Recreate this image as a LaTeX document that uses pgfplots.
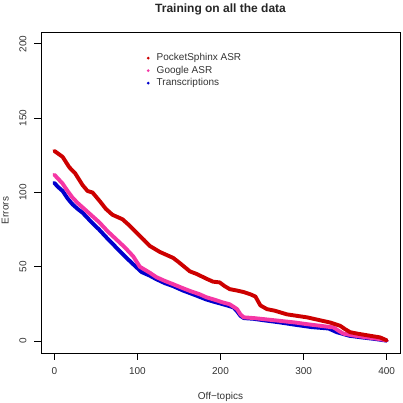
\documentclass[border=0pt]{standalone}
\usepackage{fontspec}
\setmainfont{Liberation Sans}
\usepackage{pgfplots}
\pgfplotsset{compat=1.18}
\definecolor{psred}{RGB}{205,0,0}
\definecolor{gpink}{RGB}{245,55,165}
\definecolor{trblue}{RGB}{0,0,205}

\begin{document}
\begin{tikzpicture}
\path[use as bounding box] (0,0) rectangle (403bp,403bp);
\begin{axis}[
  at={(41bp,50bp)}, anchor=south west,
  scale only axis, width=359bp, height=321bp,
  xmin=-16, xmax=416, ymin=-8, ymax=208,
  xtick={0,100,...,400}, ytick={0,50,...,200},
  tick pos=left, tick align=outside, major tick length=6.5bp,
  axis line style={line width=0.8bp},
  every tick/.style={black, line width=0.8bp},
  /pgf/number format/assume math mode=true,
  ticklabel style={font=\fontsize{10bp}{12bp}\selectfont, text=black!80},
  xticklabel style={yshift=-4bp},
  yticklabel style={xshift=-4.5bp, rotate=90, anchor=south},
  reverse legend,
  legend cell align=left,
  legend image code/.code={\fill[#1, draw=none] (0bp,0bp) circle (1.5bp);},
  legend style={draw=none, fill=none, font=\fontsize{10bp}{12bp}\selectfont,
    text=black!80, at={(0.2856,0.945)}, anchor=north west,
    column sep=5.5bp,
    nodes={inner sep=1.5bp, text height=7.5bp, text depth=2bp}},
]
% Transcriptions
\addplot[trblue, line width=3.9bp, line join=round, line cap=round] table {
x y
0 106.5
4 104
10 101
16 96
22 92
28 89
34 86.4
44 80.5
54 75
64 69
74.5 63
85 57
95 51.7
105 46.5
115 44
123 41.6
133 39
143 37
155 34
167 31.5
183 28
192 26.5
203 24.8
211 23.5
216 22.5
220 20
224 17
228 15.5
240 15
255 13.8
270 12.7
290 11
310 9.4
330 8.5
340 6
355 3.6
370 2.5
385 1.5
400 0.3
};
\addlegendentry{Transcriptions}
% Google ASR
\addplot[gpink, line width=3.9bp, line join=round, line cap=round] table {
x y
0 112
5 109
10 106
16 101
22 96.5
28 93
34 90
44 85
54 80
64 74
74.5 68.5
85 63
95 57
103 50
115 46
123 43
133 40.5
143 38.3
153 36
163 33.8
175 31.5
183 29.5
192 28
203 26
211 24.8
216 23
220 21.5
224 18
228 16
240 15.5
252 14.8
272 13.6
290 12.5
304 11.4
320 10.3
336 9.2
342 7
348 5
360 3.8
376 2.5
390 1.5
400 0.5
};
\addlegendentry{Google ASR}
% PocketSphinx ASR
\addplot[psred, line width=3.9bp, line join=round, line cap=round] table {
x y
0 128
5 126
10 124
18 117
25 113
34 105
40 101
46 100
55 94
62 89
70 85
82 82
90 78
99 73
108 68
115 64
127 60
135 58
143 56
150 53
163 47
172 45
183 42
191 40
199 39.5
205 37
211 35
220 34
228 33
236 31.5
242 30
245 27
248 24
256 21.5
265 20.5
280 18
292 17
304 16
320 14
332 12.5
344 10.3
350 8
356 6
365 5
380 3.6
392 2.5
400 0.5
};
\addlegendentry{PocketSphinx ASR}
\end{axis}
\node[font=\bfseries\fontsize{12bp}{14bp}\selectfont, text=black!85] at (220.5bp,394bp) {Training on all the data};
\node[font=\fontsize{10bp}{12bp}\selectfont, text=black!80] at (220.5bp,6.5bp) {Off−topics};
\node[font=\fontsize{10bp}{12bp}\selectfont, text=black!80, rotate=90, anchor=base] at (8.5bp,192.5bp) {Errors};
\end{tikzpicture}
\end{document}
